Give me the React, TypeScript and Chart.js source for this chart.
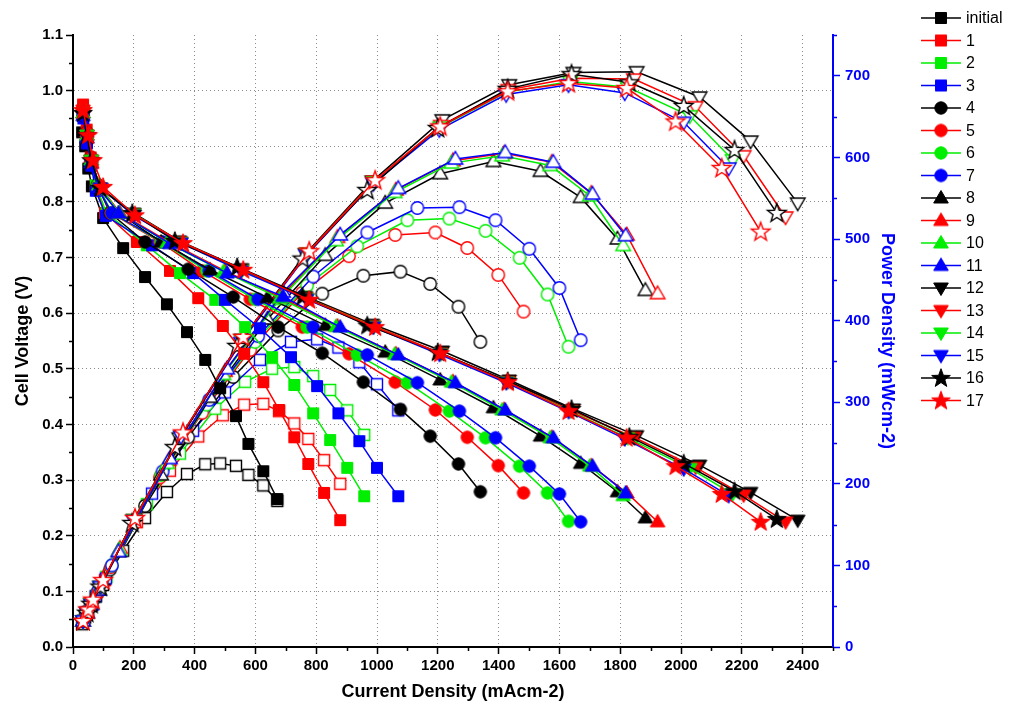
import React, { useEffect, useRef } from 'react';
import { Chart, registerables } from 'chart.js';

Chart.register(...registerables);

// ---------- data (current density mA/cm2, cell voltage V, power density mW/cm2) ----------
const NAMES = ['initial', '1', '2', '3', '4', '5', '6', '7', '8', '9', '10', '11', '12', '13', '14', '15', '16', '17'];

const I_INIT = [30, 40, 50, 62, 99, 165, 237, 309, 375, 435, 484, 536, 577, 626, 672];
const V_INIT = [0.925, 0.9, 0.86, 0.828, 0.771, 0.717, 0.665, 0.616, 0.566, 0.516, 0.465, 0.415, 0.365, 0.316, 0.266];
const P_INIT = [28, 36, 43, 51, 76, 118, 158, 190, 212, 224, 225, 222, 211, 198, 179];

const I_1 = [33, 45, 58, 75, 105, 210, 319, 412, 493, 563, 626, 678, 728, 774, 826, 879];
const V_1 = [0.975, 0.93, 0.88, 0.83, 0.78, 0.728, 0.676, 0.627, 0.577, 0.527, 0.476, 0.426, 0.377, 0.329, 0.277, 0.228];
const P_1 = [32, 42, 51, 62, 82, 153, 216, 258, 284, 297, 298, 289, 274, 255, 229, 200];

const I_2 = [33, 45, 58, 75, 110, 243, 352, 468, 566, 655, 728, 790, 846, 902, 958];
const V_2 = [0.96, 0.92, 0.875, 0.83, 0.78, 0.722, 0.672, 0.624, 0.575, 0.521, 0.471, 0.42, 0.372, 0.322, 0.271];
const P_2 = [32, 41, 51, 62, 86, 175, 237, 292, 325, 341, 343, 332, 315, 290, 260];

const I_3 = [34, 46, 60, 75, 108, 260, 395, 500, 615, 717, 803, 873, 942, 1000, 1070];
const V_3 = [0.95, 0.905, 0.865, 0.82, 0.775, 0.722, 0.672, 0.624, 0.573, 0.521, 0.469, 0.42, 0.37, 0.322, 0.271];
const P_3 = [32, 42, 52, 62, 84, 188, 265, 312, 352, 374, 377, 367, 349, 322, 290];

const I_4 = [33, 45, 58, 80, 122, 237, 379, 527, 675, 820, 955, 1077, 1175, 1268, 1340];
const V_4 = [0.955, 0.925, 0.88, 0.83, 0.78, 0.728, 0.679, 0.629, 0.575, 0.528, 0.476, 0.427, 0.379, 0.329, 0.279];
const P_4 = [32, 42, 51, 66, 95, 173, 257, 331, 388, 433, 455, 460, 445, 417, 374];

const I_5 = [33, 46, 60, 82, 125, 286, 425, 583, 754, 908, 1060, 1192, 1297, 1399, 1482];
const V_5 = [0.97, 0.925, 0.88, 0.83, 0.78, 0.728, 0.676, 0.625, 0.575, 0.527, 0.476, 0.426, 0.377, 0.326, 0.277];
const P_5 = [32, 43, 53, 68, 98, 208, 287, 364, 434, 479, 505, 508, 489, 456, 411];

const I_6 = [33, 46, 60, 82, 128, 290, 440, 599, 770, 935, 1100, 1238, 1357, 1469, 1561, 1630];
const V_6 = [0.965, 0.92, 0.875, 0.83, 0.78, 0.728, 0.676, 0.625, 0.575, 0.525, 0.475, 0.424, 0.376, 0.325, 0.277, 0.226];
const P_6 = [32, 42, 53, 68, 100, 211, 297, 374, 443, 491, 523, 525, 510, 477, 432, 368];

const I_7 = [33, 46, 60, 82, 128, 295, 448, 609, 790, 968, 1133, 1271, 1390, 1501, 1600, 1670];
const V_7 = [0.96, 0.915, 0.87, 0.825, 0.78, 0.728, 0.676, 0.625, 0.575, 0.525, 0.475, 0.424, 0.376, 0.325, 0.275, 0.225];
const P_7 = [32, 42, 52, 68, 100, 215, 303, 381, 454, 508, 538, 539, 523, 488, 440, 376];

const I_8 = [33, 46, 60, 85, 150, 290, 451, 640, 830, 1027, 1208, 1383, 1538, 1670, 1791, 1883];
const V_8 = [0.96, 0.92, 0.875, 0.825, 0.78, 0.728, 0.678, 0.628, 0.578, 0.53, 0.48, 0.43, 0.379, 0.33, 0.279, 0.232];
const P_8 = [32, 42, 53, 70, 117, 211, 306, 402, 480, 544, 580, 595, 583, 551, 500, 437];

const I_9 = [33, 46, 60, 85, 155, 315, 500, 685, 870, 1062, 1250, 1418, 1575, 1705, 1822, 1923];
const V_9 = [0.97, 0.925, 0.88, 0.83, 0.78, 0.728, 0.676, 0.628, 0.577, 0.527, 0.477, 0.427, 0.377, 0.326, 0.277, 0.225];
const P_9 = [32, 43, 53, 71, 121, 229, 338, 430, 502, 560, 596, 605, 594, 556, 505, 433];

const I_10 = [33, 46, 60, 85, 152, 310, 495, 680, 865, 1058, 1245, 1412, 1570, 1700, 1810];
const V_10 = [0.96, 0.92, 0.875, 0.83, 0.78, 0.727, 0.675, 0.627, 0.576, 0.526, 0.476, 0.426, 0.376, 0.325, 0.272];
const P_10 = [32, 42, 53, 71, 119, 225, 334, 426, 498, 557, 593, 602, 590, 553, 492];

const I_11 = [33, 46, 60, 85, 150, 319, 507, 691, 879, 1070, 1258, 1422, 1580, 1709, 1818];
const V_11 = [0.955, 0.915, 0.87, 0.825, 0.78, 0.725, 0.672, 0.63, 0.575, 0.525, 0.475, 0.426, 0.376, 0.325, 0.277];
const P_11 = [32, 42, 52, 70, 117, 231, 341, 435, 505, 562, 598, 606, 594, 555, 504];

const I_12 = [33, 46, 60, 90, 200, 350, 555, 765, 985, 1215, 1435, 1646, 1854, 2061, 2229, 2384];
const V_12 = [0.96, 0.92, 0.875, 0.825, 0.78, 0.73, 0.68, 0.63, 0.58, 0.532, 0.48, 0.428, 0.38, 0.327, 0.278, 0.228];
const P_12 = [32, 42, 53, 74, 156, 256, 377, 482, 571, 646, 689, 704, 705, 674, 620, 544];

const I_13 = [33, 46, 60, 90, 200, 355, 555, 770, 990, 1210, 1432, 1640, 1845, 2048, 2206, 2344];
const V_13 = [0.965, 0.92, 0.875, 0.825, 0.778, 0.728, 0.677, 0.627, 0.577, 0.528, 0.477, 0.425, 0.377, 0.323, 0.273, 0.225];
const P_13 = [32, 42, 53, 74, 156, 258, 376, 483, 571, 639, 683, 697, 696, 662, 602, 527];

const I_14 = [33, 46, 60, 90, 200, 355, 555, 770, 990, 1208, 1428, 1635, 1825, 2029, 2170];
const V_14 = [0.96, 0.92, 0.875, 0.825, 0.778, 0.727, 0.677, 0.626, 0.576, 0.527, 0.476, 0.424, 0.376, 0.321, 0.275];
const P_14 = [32, 42, 53, 74, 156, 258, 376, 482, 570, 637, 680, 693, 686, 651, 597];

const I_15 = [33, 46, 60, 90, 200, 355, 552, 768, 988, 1205, 1425, 1630, 1815, 2009, 2157];
const V_15 = [0.955, 0.915, 0.87, 0.825, 0.776, 0.726, 0.676, 0.625, 0.575, 0.526, 0.475, 0.423, 0.374, 0.32, 0.272];
const P_15 = [32, 42, 52, 74, 155, 258, 373, 480, 568, 634, 677, 689, 679, 643, 587];

const I_16 = [33, 46, 60, 90, 195, 335, 540, 755, 968, 1200, 1430, 1640, 1830, 2009, 2176, 2315];
const V_16 = [0.96, 0.92, 0.875, 0.825, 0.78, 0.73, 0.683, 0.63, 0.578, 0.53, 0.478, 0.428, 0.378, 0.33, 0.28, 0.23];
const P_16 = [32, 42, 53, 74, 152, 245, 369, 476, 560, 636, 684, 702, 692, 663, 609, 532];

const I_17 = [33, 50, 66, 99, 204, 362, 560, 777, 994, 1208, 1430, 1630, 1821, 1982, 2134, 2262];
const V_17 = [0.965, 0.92, 0.875, 0.827, 0.776, 0.726, 0.678, 0.624, 0.575, 0.528, 0.476, 0.424, 0.376, 0.325, 0.275, 0.225];
const P_17 = [32, 46, 58, 82, 158, 263, 380, 485, 572, 638, 681, 691, 685, 644, 587, 509];

const CURRENTS = [I_INIT, I_1, I_2, I_3, I_4, I_5, I_6, I_7, I_8, I_9, I_10, I_11, I_12, I_13, I_14, I_15, I_16, I_17];
const VOLTAGES = [V_INIT, V_1, V_2, V_3, V_4, V_5, V_6, V_7, V_8, V_9, V_10, V_11, V_12, V_13, V_14, V_15, V_16, V_17];
const POWERS = [P_INIT, P_1, P_2, P_3, P_4, P_5, P_6, P_7, P_8, P_9, P_10, P_11, P_12, P_13, P_14, P_15, P_16, P_17];

const X_TICKS = [0, 200, 400, 600, 800, 1000, 1200, 1400, 1600, 1800, 2000, 2200, 2400];

// ---------- styles ----------
const COLORS = ['#000000', '#ff0000', '#00ee00', '#0000ff', '#000000', '#ff0000', '#00ee00', '#0000ff', '#000000', '#ff0000', '#00ee00', '#0000ff', '#000000', '#ff0000', '#00ee00', '#0000ff', '#000000', '#ff0000'];
const SHAPES = ['square', 'square', 'square', 'square', 'circle', 'circle', 'circle', 'circle', 'up', 'up', 'up', 'up', 'down', 'down', 'down', 'down', 'star', 'star'];
const FONT = '"Liberation Sans", Arial, Helvetica, sans-serif';
const BLUE = '#0000ff';
const GRID = '#8a8a8a';

function makeMarker(shape: string, color: string, filled: boolean): HTMLCanvasElement {
  const s = 26;
  const c = s / 2;
  const cv = document.createElement('canvas');
  cv.width = s;
  cv.height = s;
  const ctx = cv.getContext('2d') as CanvasRenderingContext2D;
  ctx.lineWidth = filled ? 1 : 1.4;
  ctx.strokeStyle = color;
  ctx.fillStyle = filled ? color : '#ffffff';
  ctx.beginPath();
  if (shape === 'square') {
    ctx.rect(c - 5.5, c - 5.5, 11, 11);
  } else if (shape === 'circle') {
    ctx.arc(c, c, 6.2, 0, Math.PI * 2);
  } else if (shape === 'up') {
    ctx.moveTo(c, c - 7.5);
    ctx.lineTo(c + 7.3, c + 5);
    ctx.lineTo(c - 7.3, c + 5);
    ctx.closePath();
  } else if (shape === 'down') {
    ctx.moveTo(c, c + 7.5);
    ctx.lineTo(c + 7.3, c - 5);
    ctx.lineTo(c - 7.3, c - 5);
    ctx.closePath();
  } else {
    for (let k = 0; k < 10; k++) {
      const r = k % 2 === 0 ? 9.8 : 4.0;
      const a = -Math.PI / 2 + (k * Math.PI) / 5;
      const px = c + r * Math.cos(a);
      const py = c + 0.5 + r * Math.sin(a);
      if (k === 0) ctx.moveTo(px, py);
      else ctx.lineTo(px, py);
    }
    ctx.closePath();
  }
  ctx.fill();
  ctx.stroke();
  return cv;
}

export default function App() {
  const ref = useRef<HTMLCanvasElement | null>(null);

  useEffect(() => {
    if (!ref.current) return;
    const filledM = NAMES.map((_, i) => makeMarker(SHAPES[i], COLORS[i], true));
    const hollowM = NAMES.map((_, i) => makeMarker(SHAPES[i], COLORS[i], false));

    const vSets: any[] = [];
    const pSets: any[] = [];
    for (let i = NAMES.length - 1; i >= 0; i--) {
      vSets.push({
        label: NAMES[i],
        data: CURRENTS[i].map((x, k) => ({ x, y: VOLTAGES[i][k] })),
        yAxisID: 'y',
        showLine: true,
        borderColor: COLORS[i],
        backgroundColor: COLORS[i],
        borderWidth: 1.5,
        pointStyle: filledM[i],
        pointRadius: 6,
        fill: false,
      });
      pSets.push({
        label: NAMES[i] + ' power',
        data: CURRENTS[i].map((x, k) => ({ x, y: POWERS[i][k] })),
        yAxisID: 'y1',
        showLine: true,
        borderColor: COLORS[i],
        backgroundColor: '#ffffff',
        borderWidth: 1.5,
        pointStyle: hollowM[i],
        pointRadius: 6,
        fill: false,
      });
    }

    const minorTicks = {
      id: 'minorTicks',
      afterDraw(chart: any) {
        const { ctx, chartArea } = chart;
        const x = chart.scales.x;
        const y = chart.scales.y;
        const y1 = chart.scales.y1;
        ctx.save();
        ctx.setLineDash([]);
        ctx.lineWidth = 1.5;
        ctx.strokeStyle = '#000';
        ctx.beginPath();
        for (let v = 100; v <= 2500; v += 200) {
          const px = Math.round(x.getPixelForValue(v)) + 0.5;
          ctx.moveTo(px, chartArea.bottom);
          ctx.lineTo(px, chartArea.bottom + 4);
        }
        for (let k = 0; k < 11; k++) {
          const py = Math.round(y.getPixelForValue(0.05 + k * 0.1)) + 0.5;
          ctx.moveTo(chartArea.left, py);
          ctx.lineTo(chartArea.left - 4, py);
        }
        ctx.stroke();
        ctx.strokeStyle = BLUE;
        ctx.beginPath();
        for (let v = 50; v <= 750; v += 100) {
          const py = Math.round(y1.getPixelForValue(v)) + 0.5;
          ctx.moveTo(chartArea.right, py);
          ctx.lineTo(chartArea.right + 4, py);
        }
        ctx.stroke();
        ctx.restore();
      },
    };

    const legendPlugin = {
      id: 'customLegend',
      afterDraw(chart: any) {
        const ctx = chart.ctx as CanvasRenderingContext2D;
        ctx.save();
        ctx.setLineDash([]);
        ctx.font = '16px ' + FONT;
        ctx.textBaseline = 'middle';
        ctx.textAlign = 'left';
        NAMES.forEach((name, i) => {
          const yy = 18 + 22.5 * i;
          ctx.strokeStyle = COLORS[i];
          ctx.lineWidth = 1.5;
          ctx.beginPath();
          ctx.moveTo(921, yy);
          ctx.lineTo(961, yy);
          ctx.stroke();
          const m = filledM[i];
          ctx.drawImage(m, 941 - m.width / 2, yy - m.height / 2);
          ctx.fillStyle = '#000';
          ctx.fillText(name, 966, yy + 1);
        });
        ctx.restore();
      },
    };

    const chart = new Chart(ref.current, {
      type: 'scatter',
      data: { datasets: [...vSets, ...pSets] },
      options: {
        animation: false,
        responsive: false,
        devicePixelRatio: 1,
        events: [],
        layout: { padding: { top: 35, right: 108, left: 0, bottom: 0 } },
        plugins: {
          legend: { display: false },
          tooltip: { enabled: false },
        },
        scales: {
          x: {
            type: 'linear',
            min: 0,
            max: 2500,
            afterFit: (s: any) => {
              s.height = 60;
            },
            afterBuildTicks: (s: any) => {
              s.ticks = X_TICKS.map((v) => ({ value: v }));
            },
            ticks: {
              autoSkip: false,
              maxRotation: 0,
              padding: 3,
              color: '#000',
              font: { family: FONT, size: 15, weight: 'bold' },
              callback: (v: any) => String(v),
            },
            grid: {
              color: (c: any) => (c.tick && c.tick.value === 0 ? 'rgba(0,0,0,0)' : GRID),
              lineWidth: 1,
              tickColor: '#000',
              tickWidth: 1.5,
              tickLength: 7,
              tickBorderDash: [],
            } as any,
            border: { display: true, color: '#000', width: 2, dash: [1, 3] },
            title: {
              display: true,
              text: 'Current Density (mAcm-2)',
              color: '#000',
              font: { family: FONT, size: 18, weight: 'bold' },
              padding: { top: 0, bottom: 4 },
            },
          },
          y: {
            type: 'linear',
            position: 'left',
            min: 0,
            max: 1.1,
            afterFit: (s: any) => {
              s.width = 73;
            },
            ticks: {
              stepSize: 0.1,
              padding: 3,
              color: '#000',
              font: { family: FONT, size: 15, weight: 'bold' },
              callback: (v: any) => Number(v).toFixed(1),
            },
            grid: {
              color: (c: any) => (c.tick && (c.tick.value > 1.05 || c.tick.value < 0.05) ? 'rgba(0,0,0,0)' : GRID),
              lineWidth: 1,
              tickColor: '#000',
              tickWidth: 1.5,
              tickLength: 7,
              tickBorderDash: [],
            } as any,
            border: { display: true, color: '#000', width: 2, dash: [1, 3] },
            title: {
              display: true,
              text: 'Cell Voltage (V)',
              color: '#000',
              font: { family: FONT, size: 18, weight: 'bold' },
              padding: { top: 12, bottom: 0 },
            },
          },
          y1: {
            type: 'linear',
            position: 'right',
            min: 0,
            max: 750,
            afterFit: (s: any) => {
              s.width = 70;
            },
            ticks: {
              stepSize: 100,
              includeBounds: false,
              padding: 5,
              color: BLUE,
              font: { family: FONT, size: 15, weight: 'bold' },
              callback: (v: any) => String(v),
            },
            grid: {
              drawOnChartArea: false,
              drawTicks: true,
              color: BLUE,
              tickColor: BLUE,
              tickWidth: 1.5,
              tickLength: 7,
            } as any,
            border: { display: true, color: BLUE, width: 2 },
            title: {
              display: true,
              text: 'Power Density (mWcm-2)',
              color: BLUE,
              font: { family: FONT, size: 18, weight: 'bold' },
              padding: { top: 5, bottom: 0 },
            },
          },
        },
      } as any,
      plugins: [minorTicks, legendPlugin],
    });
    return () => chart.destroy();
  }, []);

  return (
    <div style={{ position: 'fixed', left: 0, top: 0, width: 1011, height: 707, background: '#fff' }}>
      <canvas ref={ref} width={1011} height={707} style={{ display: 'block' }} />
    </div>
  );
}
